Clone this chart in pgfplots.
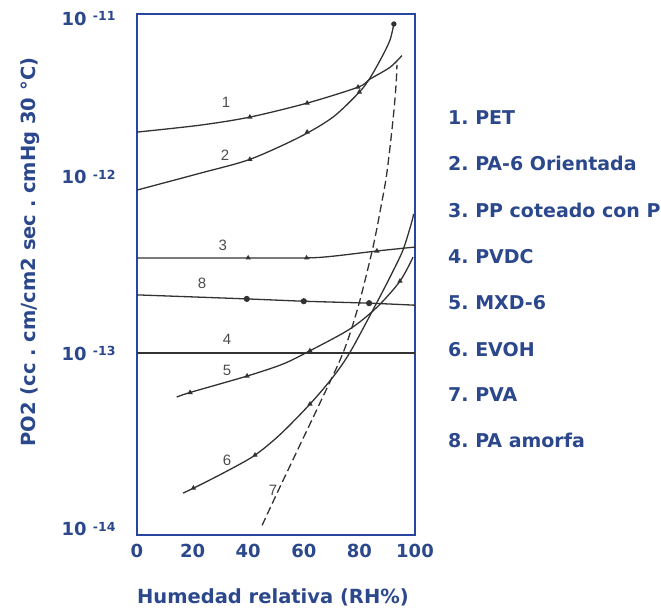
\documentclass[border=0pt]{standalone}
\usepackage{fontspec}
\setmainfont{DejaVu Sans}
\newfontfamily\numfont{Liberation Sans}
\usepackage{pgfplots}
\pgfplotsset{compat=1.18}
\definecolor{txtblue}{RGB}{44,72,140}
\definecolor{axblue}{RGB}{40,70,160}
\definecolor{ink}{RGB}{50,50,50}
\newcommand{\dec}[1]{10 \raisebox{0.5ex}{\fontsize{12.5}{12.5}\selectfont #1}}

\begin{document}
\frenchspacing
\begin{tikzpicture}[x=1pt,y=1pt]
\useasboundingbox (0,0) rectangle (661,611);
\begin{axis}[
    at={(137pt,76pt)}, anchor=south west,
    scale only axis, width=278pt, height=521pt,
    xmin=0, xmax=100,
    ymode=log, ymin=9.247e-15, ymax=8.433e-12,
    xtick={0,20,40,60,80,100},
    xtick style={draw=none},
    extra x ticks={20,40,60,80},
    extra x tick labels={},
    extra x tick style={grid=none, xtick pos=bottom, tick align=inside,
        major tick length=13pt, tick style={draw=ink, line width=1.2pt}},
    ytick={1e-14,1e-13,1e-12,7.91e-12},
    yticklabels={\dec{-14},\dec{-13},\dec{-12},\dec{-11}},
    ytick style={draw=none},
    yminorticks=false,
    /pgf/number format/assume math mode=true,
    ticklabel style={font=\fontsize{18}{18}\selectfont\bfseries, text=txtblue},
    xticklabel style={yshift=-6pt},
    yticklabel style={xshift=-18pt},
    xlabel={Humedad relativa (RH\%)},
    ylabel={PO2 (cc . cm/cm2 sec . cmHg 30 °C)},
    label style={font=\fontsize{19.5}{19.5}\selectfont\bfseries, text=txtblue},
    xlabel style={at={(axis description cs:0.489,-0.119)}, anchor=center},
    ylabel style={at={(axis description cs:-0.385,0.543)}, anchor=center},
    axis line style={draw=axblue, line width=2.2pt},
    every axis plot/.append style={ink, line width=1.3pt},
]

% 1 PET
\addplot[smooth] coordinates {(0,1.80e-12) (22.6,1.97e-12) (40.6,2.19e-12) (61.2,2.63e-12) (79.5,3.24e-12) (83.8,3.6e-12) (91,4.2e-12) (95.3,4.9e-12)};
\addplot[only marks, mark=triangle*, mark size=1.8pt] coordinates {(40.6,2.19e-12) (61.2,2.63e-12) (79.5,3.24e-12)};

% 2 PA-6 orientada
\addplot[smooth] coordinates {(0,8.43e-13) (22.6,1.05e-12) (40.6,1.26e-12) (58.6,1.69e-12) (70.5,2.19e-12) (80,3.04e-12) (83.8,3.65e-12) (88.1,4.81e-12) (91,6.0e-12) (92.4,7.4e-12)};
\addplot[only marks, mark=triangle*, mark size=1.8pt] coordinates {(40.6,1.26e-12) (61.2,1.80e-12) (80,3.04e-12)};
\addplot[only marks, mark=*, mark size=2pt] coordinates {(92.4,7.4e-12)};

% 3 PP coteado con PVDC
\addplot[smooth] coordinates {(0,3.47e-13) (40,3.47e-13) (61,3.47e-13) (70.5,3.55e-13) (86.3,3.8e-13) (100,4.0e-13)};
\addplot[only marks, mark=triangle*, mark size=1.8pt] coordinates {(40,3.47e-13) (61,3.47e-13) (86.3,3.8e-13)};

% 8 PA amorfa
\addplot[smooth] coordinates {(0,2.14e-13) (39.5,2.03e-13) (60,1.97e-13) (83.5,1.92e-13) (100,1.87e-13)};
\addplot[only marks, mark=*, mark size=2.4pt] coordinates {(39.5,2.03e-13) (60,1.97e-13) (83.5,1.92e-13)};

% 4 PVDC
\addplot[ink] coordinates {(0,1e-13) (100,1e-13)};

% 5 MXD-6
\addplot[smooth] coordinates {(14.3,5.62e-14) (19.1,5.97e-14) (39.6,7.4e-14) (52.5,8.66e-14) (62.2,1.03e-13) (76.6,1.37e-13) (86.3,1.82e-13) (94.6,2.56e-13) (99.3,3.51e-13)};
\addplot[only marks, mark=triangle*, mark size=1.8pt] coordinates {(19.1,5.97e-14) (39.6,7.4e-14) (62.2,1.03e-13) (94.6,2.56e-13)};

% 6 EVOH
\addplot[smooth] coordinates {(16.55,1.60e-14) (22.66,1.78e-14) (33.45,2.18e-14) (42.45,2.63e-14) (51.44,3.44e-14) (62.23,5.13e-14) (70.5,7.31e-14) (76.62,1.01e-13) (85.61,1.85e-13) (91.01,2.70e-13) (95.68,3.85e-13) (98.92,5.62e-13) (99.46,6.17e-13)};
\addplot[only marks, mark=triangle*, mark size=1.8pt] coordinates {(20.3,1.71e-14) (42.45,2.63e-14) (62.23,5.13e-14)};

% 7 PVA
\addplot[smooth, dash pattern=on 8pt off 4pt] coordinates {(45.0,1.05e-14) (51.4,1.73e-14) (58.6,3.0e-14) (65.8,5.2e-14) (74.1,1.0e-13) (79.5,1.82e-13) (84.9,4.0e-13) (88.0,7.11e-13) (89.5,9.61e-13) (90.6,1.30e-12) (91.7,1.85e-12) (92.6,2.56e-12) (93.3,3.56e-12) (93.5,4.33e-12)};

% curve numbers
\begin{scope}[every node/.style={font=\numfont\fontsize{15}{15}\selectfont, text=black!70}]
\node at (axis cs:32,2.67e-12) {1};
\node at (axis cs:31.7,1.33e-12) {2};
\node at (axis cs:30.9,4.11e-13) {3};
\node at (axis cs:23.4,2.5e-13) {8};
\node at (axis cs:32.4,1.19e-13) {4};
\node at (axis cs:32.4,8.0e-14) {5};
\node at (axis cs:32.4,2.47e-14) {6};
\node at (axis cs:48.9,1.67e-14) {7};
\end{scope}
\end{axis}

\begin{scope}[every node/.style={anchor=west, inner sep=0pt, font=\fontsize{19}{19}\selectfont\bfseries, text=txtblue}]
\node at (448,493) {1. PET};
\node at (448,448) {2. PA-6 Orientada};
\node at (448,401) {3. PP coteado con P};
\node at (448,354) {4. PVDC};
\node at (448,308) {5. MXD-6};
\node at (448,261) {6. EVOH};
\node at (448,216) {7. PVA};
\node at (448,171) {8. PA amorfa};
\end{scope}
\end{tikzpicture}
\end{document}
